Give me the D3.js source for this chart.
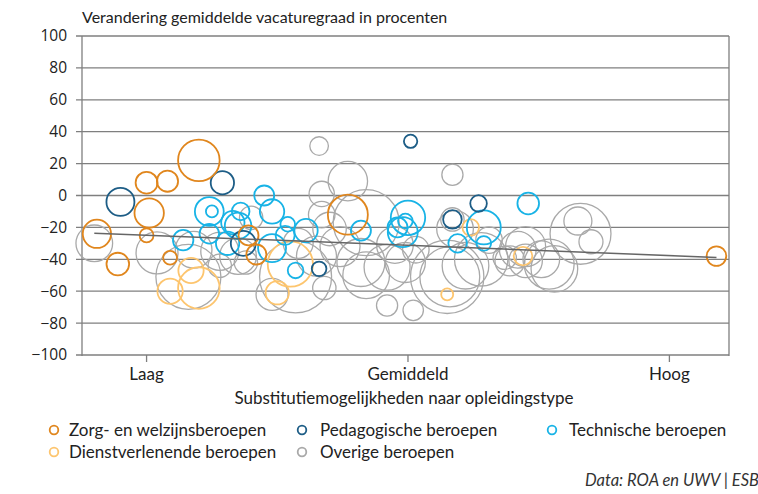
<!DOCTYPE html>
<html>
<head>
<meta charset="utf-8">
<script src="https://cdn.jsdelivr.net/npm/d3@7"></script>
<style>
  html, body { margin: 0; padding: 0; background: #fff; }
  svg { display: block; }
</style>
</head>
<body>
<div id="container"></div>
<script>
// svg size
const width = 758;
const height = 494;

// plot area
const plotLeft = 82;
const plotRight = 729;
const plotTop = 36;
const plotBottom = 355;

const fontFamily = "Lato, 'Open Sans', sans-serif";
const numberFont = "'Open Sans', 'Noto Sans', sans-serif";
const gridColor = "#7f7f7f";

// data: [substitutie (Laag=-1, Gemiddeld=0, Hoog=1), verandering vacaturegraad (%), omvang]
const zorg = [
  [-0.80, 22, 54], [-1.00, 8, 15], [-0.92, 9, 14], [-0.99, -11, 27],
  [-1.19, -24, 25], [-1.00, -25, 6], [-1.11, -43, 16], [-0.91, -39, 6],
  [-0.61, -25, 12.5], [-0.58, -37, 12.5], [-0.23, -12, 50], [1.18, -38, 12]
];
const pedagogisch = [
  [-1.10, -4, 24.5], [-0.71, 8, 17], [-0.63, -30, 19.5], [-0.34, -46, 6.7],
  [0.01, 34, 5.6], [0.27, -5, 8.6], [0.17, -15, 10.8]
];
const technisch = [
  [-0.76, -10, 26], [-0.75, -10, 4.5], [-0.86, -28, 13], [-0.76, -24, 12],
  [-0.69, -30, 17], [-0.67, -17, 17], [-0.64, -10, 9.7], [-0.65, -19, 22],
  [-0.55, 0, 12.5], [-0.52, -10, 18.6], [-0.46, -18, 6.7], [-0.47, -25, 11.3],
  [-0.39, -22, 17], [-0.52, -33, 24.5], [-0.43, -47, 7.6], [-0.18, -22, 12.5],
  [0.00, -14, 37], [-0.02, -23, 28], [-0.04, -20, 12.5], [-0.01, -16, 6.7],
  [0.19, -30, 10.8], [0.29, -20, 36], [0.29, -30, 6.7], [0.46, -5, 14.6]
];
const dienst = [
  [-0.83, -47, 20], [-0.80, -58, 54], [-0.91, -60, 20], [-0.45, -43, 64],
  [-0.50, -61, 17], [0.24, -20, 8.6], [0.44, -38, 10.8], [0.15, -62, 4.5]
];
const overig = [
  [-1.20, -30, 42], [-0.96, -36, 55], [-0.84, -51, 132], [-0.82, -34, 42],
  [-0.72, -35, 45], [-0.72, -44, 17], [-0.65, -38, 42], [-0.60, -14, 17],
  [-0.52, -62, 32], [-0.62, -42, 17], [-0.34, 31, 10.8], [-0.23, 9, 48.5],
  [-0.33, 1, 20], [-0.33, -12, 22], [-0.16, -17, 136], [-0.43, -51, 162],
  [-0.35, -38, 50], [-0.26, -32, 50], [-0.18, -42, 72], [-0.16, -50, 68],
  [-0.08, -45, 66], [-0.08, -69, 14], [0.02, -72, 13], [-0.05, -31, 42],
  [-0.42, -30, 28], [-0.30, -21, 35], [-0.32, -58, 17], [0.17, 13, 14],
  [0.17, -15, 17], [0.18, -21, 42], [0.15, -51, 168], [0.16, -51, 112],
  [0.03, -34, 22], [-0.01, -42, 50], [0.22, -44, 68], [0.28, -40, 89],
  [0.31, -28, 22], [0.37, -39, 17], [0.42, -34, 42], [0.45, -32, 50],
  [0.45, -41, 35], [0.54, -43, 78], [0.56, -46, 68], [0.39, -41, 28],
  [0.66, -24, 116], [0.65, -16, 24.5], [0.70, -29, 18], [0.51, -40, 42]
];

// trendlijn
const trendX = [-1.20, 1.18];
const trendY = [-23.6, -38.8];

const yTicks = [100, 80, 60, 40, 20, 0, -20, -40, -60, -80, -100];
const xTicks = [-1, 0, 1];
const xTickLabels = ["Laag", "Gemiddeld", "Hoog"];

const groups = [
  {name: "Overige beroepen", data: overig, color: "#a9a9a9", stroke: 1.3},
  {name: "Dienstverlenende beroepen", data: dienst, color: "#fdc56e", stroke: 1.8},
  {name: "Technische beroepen", data: technisch, color: "#18b3e6", stroke: 1.8},
  {name: "Pedagogische beroepen", data: pedagogisch, color: "#1d5d86", stroke: 1.8},
  {name: "Zorg- en welzijnsberoepen", data: zorg, color: "#e0861d", stroke: 1.8}
];

const legendOrder = [
  "Zorg- en welzijnsberoepen", "Pedagogische beroepen", "Technische beroepen",
  "Dienstverlenende beroepen", "Overige beroepen"
];

const x = d3.scaleLinear()
      .domain([-1.247, 1.228])
      .range([plotLeft, plotRight]);

const y = d3.scaleLinear()
      .domain([-100, 100])
      .range([plotBottom, plotTop]);

const r = d3.scaleSqrt()
      .domain([0, 200])
      .range([0, 40]);

const svg = d3.select("#container").append("svg")
      .attr("width", width)
      .attr("height", height);

// title
svg.append("text")
    .attr("x", plotLeft)
    .attr("y", 23)
    .attr("font-family", fontFamily)
    .attr("font-size", 16)
    .attr("fill", "#222")
    .text("Verandering gemiddelde vacaturegraad in procenten");

// gridlines
svg.append("g")
    .selectAll("line")
    .data(yTicks)
    .join("line")
    .attr("x1", plotLeft - 6)
    .attr("x2", plotRight)
    .attr("y1", d => y(d))
    .attr("y2", d => y(d))
    .attr("stroke", gridColor)
    .attr("stroke-width", 1.3);

// frame (left and right)
svg.append("g")
    .selectAll("line")
    .data([plotLeft, plotRight])
    .join("line")
    .attr("x1", d => d)
    .attr("x2", d => d)
    .attr("y1", plotTop)
    .attr("y2", plotBottom + 1)
    .attr("stroke", gridColor)
    .attr("stroke-width", 1.3);

// y labels
svg.append("g")
    .selectAll("text")
    .data(yTicks)
    .join("text")
    .attr("x", plotLeft - 15)
    .attr("y", d => y(d))
    .attr("dy", "0.35em")
    .attr("text-anchor", "end")
    .attr("font-family", numberFont)
    .attr("font-size", 15.5)
    .attr("fill", "#222")
    .text(d => d < 0 ? "\u2212" + Math.abs(d) : d);

// x ticks
svg.append("g")
    .selectAll("line")
    .data(xTicks)
    .join("line")
    .attr("x1", d => x(d))
    .attr("x2", d => x(d))
    .attr("y1", plotBottom)
    .attr("y2", plotBottom + 7)
    .attr("stroke", gridColor)
    .attr("stroke-width", 1.3);

svg.append("g")
    .selectAll("text")
    .data(xTicks)
    .join("text")
    .attr("x", d => x(d))
    .attr("y", 380)
    .attr("text-anchor", "middle")
    .attr("font-family", fontFamily)
    .attr("font-size", 17)
    .attr("fill", "#222")
    .text((d, i) => xTickLabels[i]);

svg.append("text")
    .attr("x", 404)
    .attr("y", 404)
    .attr("text-anchor", "middle")
    .attr("font-family", fontFamily)
    .attr("font-size", 17)
    .attr("fill", "#222")
    .text("Substitutiemogelijkheden naar opleidingstype");

// bubbles
const bubbles = svg.append("g");
groups.forEach(g => {
    bubbles.append("g")
	.selectAll("circle")
	.data(g.data.slice().sort((a, b) => b[2] - a[2]))
	.join("circle")
	.attr("cx", d => x(d[0]))
	.attr("cy", d => y(d[1]))
	.attr("r", d => r(d[2]))
	.attr("fill", "none")
	.attr("stroke", g.color)
	.attr("stroke-width", g.stroke);
});

// trendline
svg.append("line")
    .attr("x1", x(trendX[0]))
    .attr("x2", x(trendX[1]))
    .attr("y1", y(trendY[0]))
    .attr("y2", y(trendY[1]))
    .attr("stroke", "#666")
    .attr("stroke-width", 1.5);

// legend
const legendCircleX = [54, 302, 552];
const legendTextX = [69, 320, 569];
const legendY = [430, 452];
const legend = svg.append("g")
      .selectAll("g")
      .data(legendOrder)
      .join("g")
      .attr("transform", (d, i) => `translate(0, ${legendY[Math.floor(i / 3)]})`);

legend.append("circle")
    .attr("cx", (d, i) => legendCircleX[i % 3])
    .attr("r", 4.3)
    .attr("fill", "none")
    .attr("stroke", d => groups.find(g => g.name == d).color)
    .attr("stroke-width", 1.8);

legend.append("text")
    .attr("x", (d, i) => legendTextX[i % 3])
    .attr("dy", "0.35em")
    .attr("font-family", fontFamily)
    .attr("font-size", 17)
    .attr("fill", "#222")
    .text(d => d);

// source
svg.append("text")
    .attr("x", 585)
    .attr("y", 486)
    .attr("font-family", fontFamily)
    .attr("font-style", "italic")
    .attr("font-size", 16.5)
    .attr("fill", "#333")
    .text("Data: ROA en UWV | ESB");
</script>
</body>
</html>
